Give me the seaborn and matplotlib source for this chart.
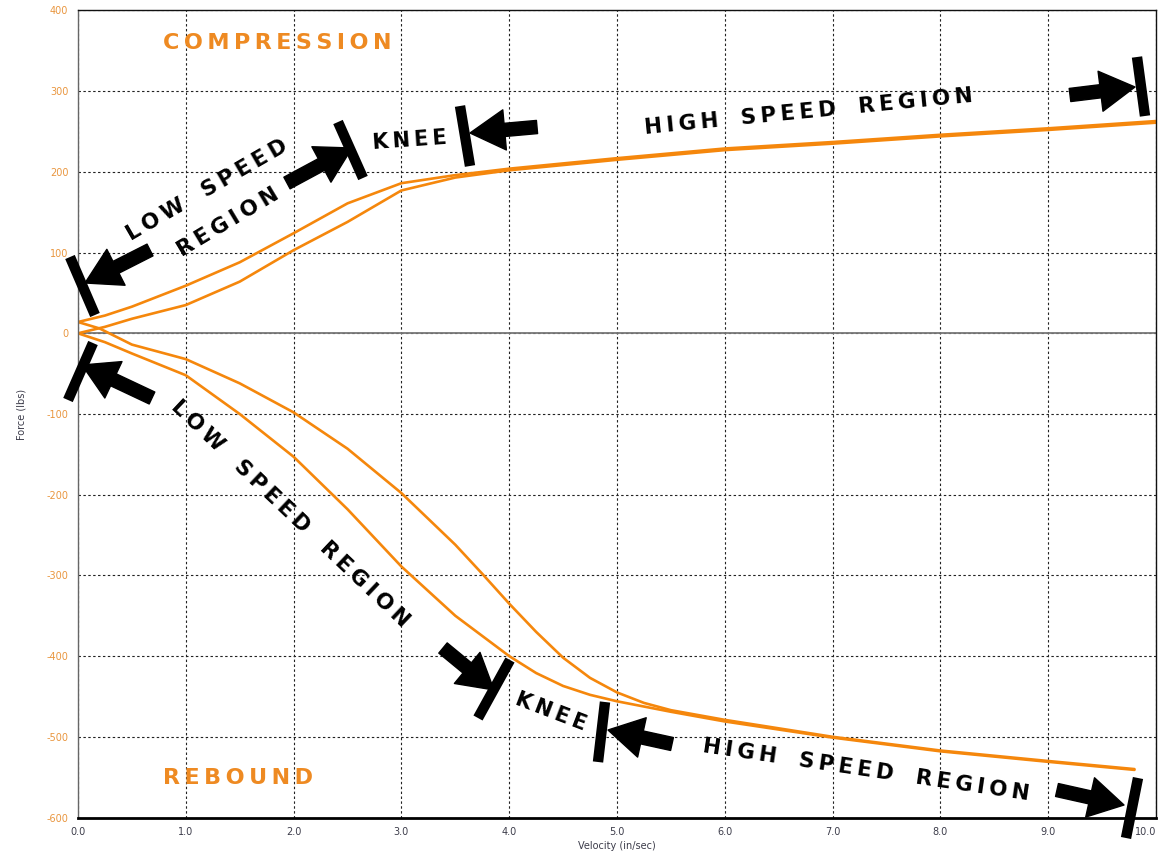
import numpy as np
import pandas as pd
import matplotlib
matplotlib.use("Agg")
import matplotlib.pyplot as plt
import seaborn as sns

# ---------------- data ----------------
comp_upper_v = [0.0, 0.25, 0.5, 1.0, 1.5, 2.0, 2.5, 3.0, 3.5, 4.0, 5.0, 6.0, 7.0, 8.0, 9.0, 10.0]
comp_upper_f = [14, 22, 33, 59, 88, 124, 161, 186, 196, 204, 217, 229, 237, 246, 254, 263]
comp_lower_v = [0.0, 0.25, 0.5, 1.0, 1.5, 2.0, 2.5, 3.0, 3.5, 4.0, 5.0, 6.0, 7.0, 8.0, 9.0, 10.0]
comp_lower_f = [0, 8, 18, 35, 64, 103, 138, 177, 193, 202, 215, 227, 235, 244, 252, 261]
reb_upper_v = [0.0, 0.2, 0.5, 1.0, 1.5, 2.0, 2.5, 3.0, 3.5, 3.75, 4.0, 4.25, 4.5, 4.75, 5.0, 5.25, 5.5, 6.0, 7.0, 8.0, 9.0, 9.8]
reb_upper_f = [14, 6, -14, -32, -62, -98, -143, -198, -262, -298, -335, -370, -402, -427, -445, -458, -467, -479, -500, -517, -530, -540]
reb_lower_v = [0.0, 0.25, 0.5, 1.0, 1.5, 2.0, 2.5, 3.0, 3.5, 4.0, 4.25, 4.5, 4.75, 5.0, 5.5, 6.0, 7.0, 8.0, 9.0, 9.8]
reb_lower_f = [0, -11, -25, -52, -100, -153, -218, -289, -350, -400, -421, -437, -448, -456, -469, -481, -501, -518, -531, -541]

x_ticks = [0, 1, 2, 3, 4, 5, 6, 7, 8, 9, 10]
x_tick_labels = ["0.0", "1.0", "2.0", "3.0", "4.0", "5.0", "6.0", "7.0", "8.0", "9.0", "10.0"]
y_ticks = [-600, -500, -400, -300, -200, -100, 0, 100, 200, 300, 400]
y_tick_labels = [str(t) for t in y_ticks]

frames = []
for name, v, f in [("comp_upper", comp_upper_v, comp_upper_f),
                   ("comp_lower", comp_lower_v, comp_lower_f),
                   ("reb_upper", reb_upper_v, reb_upper_f),
                   ("reb_lower", reb_lower_v, reb_lower_f)]:
    frames.append(pd.DataFrame({"velocity": v, "force": f, "branch": name}))
df = pd.concat(frames, ignore_index=True)

# ---------------- style ----------------
sns.set_style("white")
plt.rcParams["font.family"] = ["DejaVu Sans"]

ORANGE = "#F5870C"
TXT_ORANGE = "#EE8A22"
TICK_ORANGE = "#E9963F"

W, H = 1161, 859
fig = plt.figure(figsize=(W / 100, H / 100), dpi=100)
X0, X1, Y0, Y1 = 78, 1156, 10.5, 817.5
ax = fig.add_axes([X0 / W, (H - Y1) / H, (X1 - X0) / W, (Y1 - Y0) / H])

sns.lineplot(data=df, x="velocity", y="force", units="branch", estimator=None,
             sort=False, color=ORANGE, linewidth=1.9, ax=ax, legend=False)

ax.set_xlim(0, 10)
ax.set_ylim(-600, 400)
ax.set_xticks(x_ticks)
ax.set_xticklabels(x_tick_labels, color="#3c3c4a", fontsize=7)
ax.get_xticklabels()[-1].set_horizontalalignment("right")
ax.set_yticks(y_ticks)
ax.set_yticklabels(y_tick_labels, color=TICK_ORANGE, fontsize=7)
ax.tick_params(axis="both", length=3, width=0.8, color="#333333", pad=4)
ax.grid(True, color="#222222", linestyle=(0, (2.2, 2.2)), linewidth=0.8)
ax.axhline(0, color="#777777", linewidth=1.3, zorder=1)
ax.set_axisbelow(True)

for s in ["top", "right"]:
    ax.spines[s].set_color("#111111")
    ax.spines[s].set_linewidth(1.0)
ax.spines["left"].set_color("#666666")
ax.spines["left"].set_linewidth(1.0)
ax.spines["bottom"].set_color("#000000")
ax.spines["bottom"].set_linewidth(2.0)

ax.set_xlabel("Velocity (in/sec)", fontsize=7, color="#3c3c4a", labelpad=3)
ax.set_ylabel("Force (lbs)", fontsize=7, color="#3c3c4a", labelpad=14)


# ---------------- annotations (layout in reference pixels) ----------------
def P(px, py):
    return ((px - X0) / (X1 - X0) * 10.0, 400.0 - (py - Y0) / (Y1 - Y0) * 1000.0)


def spaced(s):
    return "   ".join("\u2009".join(w) for w in s.split(" "))


arrows = [((150, 250), (85, 283)),
          ((287, 183), (352, 148)),
          ((537, 127), (470, 133)),
          ((1070, 95), (1135, 87)),
          ((152, 398), (82, 365)),
          ((443, 648), (494, 690)),
          ((672, 744), (608, 730)),
          ((1057, 790), (1124, 805))]
bars = [((70, 257), (95, 315)),
        ((338, 122), (363, 178)),
        ((460, 106), (470, 166)),
        ((1137, 57), (1145, 116)),
        ((93, 343), (68, 400)),
        ((510, 660), (478, 718)),
        ((605, 702), (598, 762)),
        ((1138, 778), (1126, 838))]

for tail, tip in arrows:
    ax.annotate("", xy=P(*tip), xytext=P(*tail),
                arrowprops=dict(arrowstyle="simple,head_length=2.5,head_width=2.9,tail_width=0.95",
                                mutation_scale=10, color="black", shrinkA=0, shrinkB=0),
                annotation_clip=False, zorder=5)
for a, b in bars:
    pa, pb = P(*a), P(*b)
    ax.plot([pa[0], pb[0]], [pa[1], pb[1]], color="black", linewidth=7.5,
            solid_capstyle="butt", clip_on=False, zorder=5)

labels = [("LOW SPEED", (207, 190), 30, 15.5),
          ("REGION", (228, 222), 31, 15.5),
          ("KNEE", (410, 140), 4, 15),
          ("HIGH SPEED REGION", (809, 112), 5.6, 15.5),
          ("LOW SPEED REGION", (290, 514), -43.5, 15.5),
          ("KNEE", (551, 712), -21, 15),
          ("HIGH SPEED REGION", (866, 770), -8.4, 15.5)]
for txt, (px, py), ang, fs in labels:
    ax.text(*P(px, py), spaced(txt), rotation=ang, rotation_mode="anchor",
            ha="center", va="center", fontsize=fs, fontweight="bold",
            color="black", zorder=6)

ax.text(*P(163, 43), spaced("COMPRESSION"), ha="left", va="center",
        fontsize=16, fontweight="bold", color=TXT_ORANGE, zorder=6)
ax.text(*P(163, 778), spaced("REBOUND"), ha="left", va="center",
        fontsize=16, fontweight="bold", color=TXT_ORANGE, zorder=6)

fig.savefig("out.png", dpi=100)
